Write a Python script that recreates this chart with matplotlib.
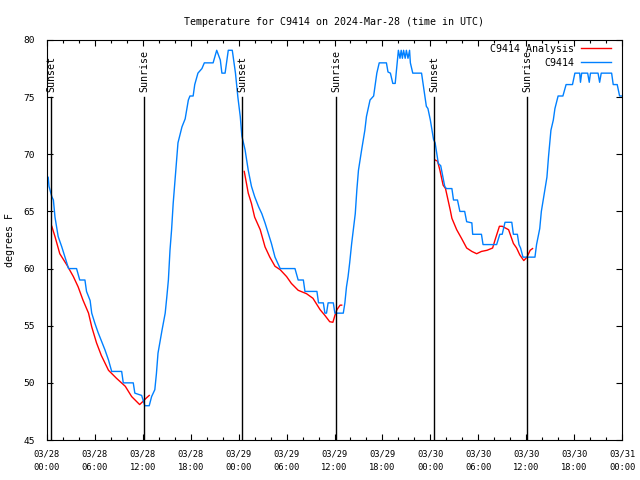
import matplotlib
matplotlib.use("Agg")
import matplotlib.pyplot as plt
from matplotlib.ticker import MultipleLocator

# hours since 03/28 00:00 UTC, temperature in degrees F
obs_hours = [0.0, 0.15, 0.25, 0.6, 0.8, 1.0, 1.4, 1.85, 2.25, 2.7, 3.7, 4.1, 4.75, 4.95, 5.4, 5.6,
             6.0, 6.4, 6.85, 7.25, 7.7, 8.1, 9.35, 9.55, 10.8, 11.0, 11.85, 12.25, 12.8, 13.1, 13.5,
             13.7, 13.9, 14.4, 14.8, 15.0, 15.2, 15.4, 15.6, 15.8, 16.0, 16.2, 16.4, 16.9, 17.3, 17.7,
             17.9, 18.3, 18.5, 18.9, 19.4, 19.7, 20.8, 21.25, 21.7, 21.9, 22.3, 22.7, 23.2, 23.6, 23.9,
             24.2, 24.4, 24.8, 25.2, 25.6, 26.0, 26.5, 26.9, 27.3, 27.7, 28.1, 28.55, 29.2, 31.05,
             31.45, 32.1, 32.3, 33.8, 34.0, 34.6, 34.8, 35.0, 35.2, 35.85, 36.05, 37.1, 37.3, 37.5,
             37.7, 37.9, 38.15, 38.6, 38.8, 39.0, 39.4, 39.8, 40.0, 40.45, 40.9, 41.3, 41.6, 42.5,
             42.7, 43.0, 43.3, 43.6, 44.0, 44.2, 44.35, 44.5, 44.65, 44.85, 45.0, 45.2, 45.4, 45.5,
             45.8, 46.9, 47.5, 47.7, 48.0, 48.4, 48.6, 49.0, 49.3, 49.8, 50.0, 50.7, 50.9, 51.4, 51.7,
             52.3, 52.55, 53.2, 53.3, 54.4, 54.6, 56.3, 56.7, 57.0, 57.35, 58.2, 58.4, 58.9, 59.1,
             59.3, 59.6, 61.1, 61.3, 61.7, 61.9, 62.2, 62.6, 62.8, 63.1, 63.4, 63.6, 64.0, 64.6, 65.0,
             65.8, 66.1, 66.7, 66.8, 66.95, 67.7, 67.9, 68.05, 69.0, 69.2, 69.4, 70.7, 70.9, 71.4,
             71.7, 72.0]
obs_temps = [68.0, 68.0, 67.2, 66.3, 66.0, 64.5, 62.8, 61.9, 61.0, 60.0, 60.0, 59.0, 59.0, 58.0, 57.2, 56.1,
             55.2, 54.4, 53.6, 52.9, 52.0, 51.0, 51.0, 50.0, 50.0, 49.1, 48.9, 48.0, 48.0, 48.8, 49.4,
             50.8, 52.6, 54.6, 56.1, 57.5, 59.0, 61.6, 63.4, 65.7, 67.5, 69.2, 71.0, 72.4, 73.1, 74.75,
             75.1, 75.1, 76.1, 77.1, 77.5, 78.0, 78.0, 79.1, 78.25, 77.1, 77.1, 79.1, 79.1, 77.1, 75.0,
             73.3, 71.6, 70.4, 68.6, 67.2, 66.3, 65.4, 64.8, 64.0, 63.1, 62.2, 61.0, 60.0, 60.0,
             59.0, 59.0, 58.0, 58.0, 57.0, 57.0, 56.1, 56.1, 57.0, 57.0, 56.1, 56.1, 57.0, 58.4,
             59.3, 60.5, 62.2, 64.8, 66.9, 68.6, 70.4, 72.1, 73.3, 74.75, 75.1, 77.1, 78.0, 78.0,
             77.2, 77.1, 76.2, 76.2, 79.1, 78.4, 79.1, 78.4, 79.1, 78.4, 79.1, 78.4, 79.1, 78.0,
             77.1, 77.1, 74.2, 74.0, 73.0, 71.3, 71.0, 69.2, 69.0, 67.2, 67.0, 67.0, 66.0, 66.0, 65.0,
             65.0, 64.1, 64.0, 63.0, 63.0, 62.1, 62.1, 63.0, 63.0, 64.05, 64.05, 63.0, 63.0, 62.1,
             61.8, 61.0, 61.0, 62.1, 63.5, 65.0, 66.3, 68.0, 69.8, 72.1, 73.0, 74.0, 75.1, 75.1, 76.1,
             76.1, 77.1, 77.1, 76.3, 77.1, 77.1, 76.3, 77.1, 77.1, 76.3, 77.1, 77.1, 76.1, 76.1,
             75.1, 75.1]

# analysis, one piece per night
night1_hours = [0.6, 1.0, 1.6, 2.5, 3.3, 3.9, 4.5, 5.2, 5.6, 6.2, 6.8, 7.7, 8.7, 9.8, 10.6, 11.6,
                12.05, 12.4, 12.8]
night1_temps = [63.7, 62.8, 61.3, 60.3, 59.3, 58.4, 57.25, 56.1, 54.9, 53.5, 52.4, 51.1, 50.4, 49.7,
                48.8, 48.1, 48.4, 48.65, 48.9]
night2_hours = [24.7, 25.2, 25.6, 26.0, 26.7, 27.3, 27.9, 28.55, 29.2, 30.0, 30.6, 31.45, 32.5, 33.3,
                34.2, 34.8, 35.4, 35.8, 36.05, 36.3, 36.7, 36.9]
night2_temps = [68.5, 66.6, 65.7, 64.5, 63.4, 61.9, 61.0, 60.2, 59.9, 59.3, 58.7, 58.1, 57.8, 57.4,
                56.4, 55.9, 55.35, 55.3, 55.9, 56.4, 56.8, 56.8]
night3_hours = [48.6, 48.9, 49.2, 49.6, 49.9, 50.5, 50.7, 51.3, 51.9, 52.55, 53.2, 53.8, 54.4, 55.1,
                55.8, 56.1, 56.65, 57.0, 57.8, 58.4, 58.8, 59.2, 59.7, 60.1, 60.5, 60.8]
night3_temps = [69.5, 69.4, 68.6, 67.3, 67.0, 65.1, 64.4, 63.4, 62.65, 61.8, 61.5, 61.3, 61.5, 61.6,
                61.8, 62.5, 63.7, 63.7, 63.4, 62.2, 61.8, 61.2, 60.7, 61.0, 61.6, 61.75]

sun_events = [(0.55, "Sunset"), (12.15, "Sunrise"), (24.45, "Sunset"),
              (36.2, "Sunrise"), (48.5, "Sunset"), (60.15, "Sunrise")]

tick_labels = ["03/28\n00:00", "03/28\n06:00", "03/28\n12:00", "03/28\n18:00",
               "03/29\n00:00", "03/29\n06:00", "03/29\n12:00", "03/29\n18:00",
               "03/30\n00:00", "03/30\n06:00", "03/30\n12:00", "03/30\n18:00",
               "03/31\n00:00"]

plt.rcParams['font.family'] = ['DejaVu Sans Mono']
plt.rcParams['font.size'] = 7.2

fig = plt.figure(figsize=(6.4, 4.8), dpi=100)
ax = fig.add_axes([47 / 640, 40 / 480, 575 / 640, 400 / 480])

red = "#ff0000"
blue = "#0080ff"

ax.plot(night1_hours, night1_temps, color=red, lw=1.0, label="C9414 Analysis")
ax.plot(night2_hours, night2_temps, color=red, lw=1.0)
ax.plot(night3_hours, night3_temps, color=red, lw=1.0)
ax.plot(obs_hours, obs_temps, color=blue, lw=1.0, label="C9414")

# sunrise / sunset markers
for h, name in sun_events:
    ax.plot([h, h], [45, 75], color="black", lw=1.0)
    ax.text(h, 75.45, name, rotation=90, ha="center", va="bottom")

ax.set_xlim(0, 72)
ax.set_ylim(45, 80)
ax.set_xticks(range(0, 73, 6))
ax.set_xticklabels(tick_labels, linespacing=1.55, fontsize=6.3)
ax.xaxis.set_minor_locator(MultipleLocator(2))
ax.set_yticks(range(45, 81, 5))
ax.set_yticklabels([str(v) for v in range(45, 81, 5)], fontsize=6.8)
ax.tick_params(which="both", direction="in", top=True, right=True, width=0.8)
ax.tick_params(which="major", length=4.5)
ax.tick_params(axis="x", which="major", pad=7)
ax.tick_params(axis="y", which="major", pad=8.5)
ax.tick_params(which="minor", length=2.5)
for s in ax.spines.values():
    s.set_linewidth(0.8)

ax.set_ylabel("degrees F", labelpad=6)
ax.set_title("Temperature for C9414 on 2024-Mar-28 (time in UTC)", fontsize=7.2, pad=11)
ax.legend(loc="upper right", bbox_to_anchor=(0.981, 0.99), frameon=False, markerfirst=False,
          handlelength=3.0, borderaxespad=0.0, borderpad=0.0, labelspacing=0.4, handletextpad=0.7)

fig.savefig("out.png", dpi=100)
